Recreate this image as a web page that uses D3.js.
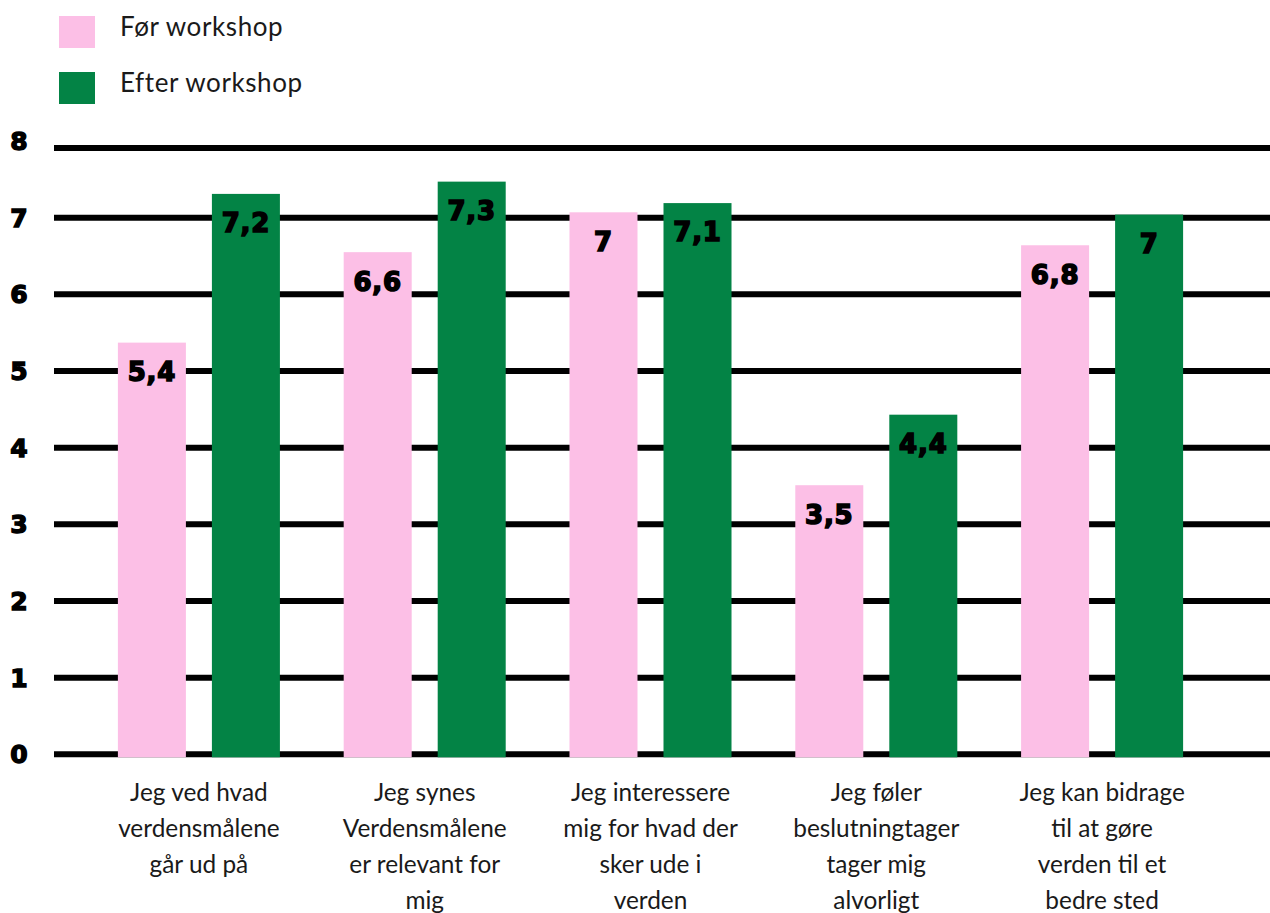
<!DOCTYPE html>
<html>
<head>
<meta charset="utf-8">
<script src="https://cdn.jsdelivr.net/npm/d3@7"></script>
<style>
  html, body { margin: 0; padding: 0; background: #fff; }
  svg { display: block; }
</style>
</head>
<body>
<svg id="chart" width="1270" height="913"></svg>
<script>
const categories = [
  ["Jeg ved hvad", "verdensmålene", "går ud på"],
  ["Jeg synes", "Verdensmålene", "er relevant for", "mig"],
  ["Jeg interessere", "mig for hvad der", "sker ude i", "verden"],
  ["Jeg føler", "beslutningtager", "tager mig", "alvorligt"],
  ["Jeg kan bidrage", "til at gøre", "verden til et", "bedre sted"]
];
const seriesNames = ["Før workshop", "Efter workshop"];
const foerValues = [5.37, 6.55, 7.07, 3.51, 6.64];
const efterValues = [7.31, 7.47, 7.19, 4.43, 7.04];
const foerLabels = ["5,4", "6,6", "7", "3,5", "6,8"];
const efterLabels = ["7,2", "7,3", "7,1", "4,4", "7"];
const yTicks = [0, 1, 2, 3, 4, 5, 6, 7, 8];

const colors = ["#FCBFE6", "#038345"];
const svg = d3.select("#chart");
const catFont = "Lato, 'Noto Sans', sans-serif";
const heavyFont = "'DejaVu Sans', sans-serif";

const plotTop = 148;
const y = d3.scaleLinear().domain([0, 8]).range([754.3, 141]);
const x0 = d3.scaleBand().domain(d3.range(categories.length))
  .range([86, 1215]).paddingInner(0.2825).paddingOuter(0.14125);
const x1 = d3.scaleBand().domain([0, 1]).range([0, x0.bandwidth()]).paddingInner(0.2766);

// gridlines
svg.append("g").selectAll("line").data(yTicks).join("line")
  .attr("x1", 54).attr("x2", 1270)
  .attr("y1", d => Math.max(y(d), plotTop)).attr("y2", d => Math.max(y(d), plotTop))
  .attr("stroke", "#000").attr("stroke-width", 6);

// tick labels
svg.append("g").selectAll("text").data(yTicks).join("text")
  .attr("x", 19).attr("y", d => y(d)).attr("dy", "0.36em")
  .attr("text-anchor", "middle")
  .attr("font-family", heavyFont).attr("font-weight", "bold").attr("font-size", 25)
  .attr("stroke", "#000").attr("stroke-width", 1.4).attr("fill", "#000")
  .text(d => d);

// bars
const rows = categories.map((c, i) => [
  { i, s: 0, v: foerValues[i], lab: foerLabels[i] },
  { i, s: 1, v: efterValues[i], lab: efterLabels[i] }
]).flat();

svg.append("g").selectAll("rect").data(rows).join("rect")
  .attr("x", d => x0(d.i) + x1(d.s))
  .attr("width", x1.bandwidth())
  .attr("y", d => y(d.v))
  .attr("height", d => y(0) - y(d.v) + 3)
  .attr("fill", d => colors[d.s]);

// value labels
svg.append("g").selectAll("text").data(rows).join("text")
  .attr("x", d => x0(d.i) + x1(d.s) + x1.bandwidth() / 2)
  .attr("y", d => y(d.v) + 29).attr("dy", "0.36em")
  .attr("text-anchor", "middle")
  .attr("font-family", heavyFont).attr("font-weight", "bold").attr("font-size", 26)
  .attr("stroke", "#000").attr("stroke-width", 1.6).attr("fill", "#000")
  .attr("letter-spacing", 0.8)
  .text(d => d.lab);

// category labels
const cg = svg.append("g").selectAll("text").data(categories).join("text")
  .attr("x", (d, i) => x0(i) + x0.bandwidth() / 2)
  .attr("y", 800.5)
  .attr("text-anchor", "middle")
  .attr("font-family", catFont).attr("font-size", 24.4).attr("fill", "#1a1a1a");
cg.selectAll("tspan").data(d => d).join("tspan")
  .attr("x", function () { return d3.select(this.parentNode).attr("x"); })
  .attr("dy", (d, j) => j === 0 ? 0 : 36.3)
  .text(d => d);

// legend
const lg = svg.append("g").selectAll("g").data(seriesNames).join("g")
  .attr("transform", (d, i) => `translate(59, ${16 + i * 56})`);
lg.append("rect").attr("width", 36).attr("height", 32).attr("fill", (d, i) => colors[i]);
lg.append("text").attr("x", 61).attr("y", 11).attr("dy", "0.35em")
  .attr("font-family", catFont).attr("font-size", 26).attr("letter-spacing", 0.6)
  .attr("fill", "#1a1a1a")
  .text(d => d);
</script>
</body>
</html>
